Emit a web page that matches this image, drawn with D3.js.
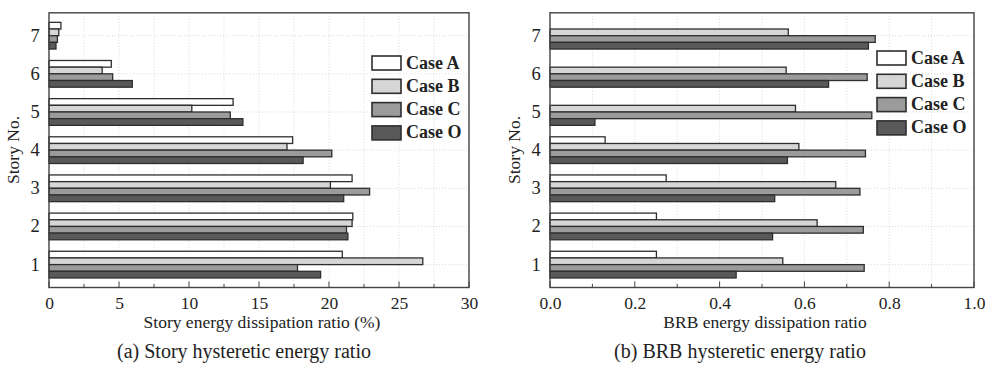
<!DOCTYPE html>
<html>
<head>
<meta charset="utf-8">
<script src="https://cdn.jsdelivr.net/npm/d3@7/dist/d3.min.js"></script>
<style>
  body { margin: 0; background: #fff; }
  svg text { font-family: "Times New Roman", Times, "Liberation Serif", Tinos, serif; fill: #222; }
</style>
</head>
<body>
<script>
var stories = [1, 2, 3, 4, 5, 6, 7];
var cases = ["Case A", "Case B", "Case C", "Case O"];
var caseColors = ["#ffffff", "#d6d6d6", "#9b9b9b", "#595959"];

// story energy dissipation ratio (%), stories 1..7
var storyA = [20.95, 21.7, 21.65, 17.4, 13.15, 4.45, 0.85];
var storyB = [26.7, 21.65, 20.1, 17.0, 10.2, 3.8, 0.7];
var storyC = [17.75, 21.25, 22.9, 20.2, 12.95, 4.55, 0.6];
var storyO = [19.4, 21.35, 21.05, 18.15, 13.85, 5.95, 0.5];

// BRB energy dissipation ratio, stories 1..7 (0 = no bar)
var brbA = [0.251, 0.251, 0.274, 0.13, 0, 0, 0];
var brbB = [0.549, 0.63, 0.674, 0.587, 0.579, 0.557, 0.562];
var brbC = [0.741, 0.739, 0.731, 0.744, 0.759, 0.748, 0.767];
var brbO = [0.439, 0.525, 0.53, 0.56, 0.106, 0.657, 0.751];

var xTicksA = [0, 5, 10, 15, 20, 25, 30];
var xTicksB = [0, 0.2, 0.4, 0.6, 0.8, 1.0];

var svg = d3.select("body").append("svg")
  .attr("width", 985).attr("height", 368);

function drawPanel(opt) {
  var x = d3.scaleLinear().domain(opt.xDomain).range([opt.left, opt.right]);
  var y = d3.scaleLinear().domain([0.4, 7.6]).range([287.5, 12.8]);
  var g = svg.append("g");

  // grid
  g.selectAll(".vgrid").data(opt.minor).enter().append("line")
    .attr("x1", function(d){ return x(d); }).attr("x2", function(d){ return x(d); })
    .attr("y1", y(7.6)).attr("y2", y(0.4))
    .attr("stroke", "#d0d0d0").attr("stroke-width", 0.8).attr("stroke-dasharray", "1,2");
  g.selectAll(".hgrid").data(stories).enter().append("line")
    .attr("x1", x.range()[0]).attr("x2", x.range()[1])
    .attr("y1", function(d){ return y(d); }).attr("y2", function(d){ return y(d); })
    .attr("stroke", "#d0d0d0").attr("stroke-width", 0.8).attr("stroke-dasharray", "1,2");

  // bars
  var bw = 0.175;
  opt.series.forEach(function(vals, i) {
    var rows = stories.map(function(s, j){ return {s: s, v: vals[j]}; })
      .filter(function(d){ return d.v > 0; });
    g.selectAll(".bar" + i).data(rows).enter().append("rect")
      .attr("x", x(0))
      .attr("y", function(d){ return y(d.s + 0.35 - i * bw); })
      .attr("width", function(d){ return x(d.v) - x(0); })
      .attr("height", y(0) - y(bw))
      .attr("fill", caseColors[i])
      .attr("stroke", "#2e2e2e").attr("stroke-width", 1.3);
  });

  // x axis with inward ticks
  var xAxis = d3.axisBottom(x).tickValues(opt.ticks).tickFormat(opt.fmt).tickSize(0).tickPadding(9);
  var ax = g.append("g").attr("transform", "translate(0," + y(0.4) + ")").call(xAxis);
  ax.select(".domain").remove();
  ax.attr("font-family", null).attr("font-size", null);
  ax.selectAll("text").style("font-size", "17.5px").attr("fill", "#222");
  g.selectAll(".mtick").data(opt.minor).enter().append("line")
    .attr("x1", function(d){ return x(d); }).attr("x2", function(d){ return x(d); })
    .attr("y1", y(0.4))
    .attr("y2", function(d, i){ return y(0.4) - (i % 2 === 0 ? 6 : 3.5); })
    .attr("stroke", "#444").attr("stroke-width", 1);

  // y labels
  g.selectAll(".ylab").data(stories).enter().append("text")
    .attr("x", x.range()[0] - 14).attr("y", function(d){ return y(d) + 6; })
    .attr("text-anchor", "middle").style("font-size", "18.5px")
    .text(function(d){ return d; });

  // frame
  g.append("rect").attr("x", x.range()[0]).attr("y", y(7.6))
    .attr("width", x.range()[1] - x.range()[0]).attr("height", y(0.4) - y(7.6))
    .attr("fill", "none").attr("stroke", "#444").attr("stroke-width", 1.4);

  // legend
  cases.forEach(function(c, i) {
    g.append("rect").attr("x", opt.legX).attr("y", opt.legY + i * 23.3)
      .attr("width", 29).attr("height", 14)
      .attr("fill", caseColors[i]).attr("stroke", "#2e2e2e").attr("stroke-width", 1.6);
    g.append("text").attr("x", opt.legX + 34).attr("y", opt.legY + i * 23.3 + 12.5)
      .style("font-size", "18px").style("font-weight", "bold").text(c);
  });

  // titles
  g.append("text").attr("transform", "translate(" + (x.range()[0] - 30) + "," + 150 + ") rotate(-90)")
    .attr("text-anchor", "middle").style("font-size", "17.5px").text("Story No.");
  g.append("text").attr("x", (x.range()[0] + x.range()[1]) / 2 + 3).attr("y", 328)
    .attr("text-anchor", "middle").style("font-size", "17.5px").text(opt.xTitle);
  g.append("text").attr("x", opt.capX).attr("y", 358)
    .attr("text-anchor", "middle").style("font-size", "20px").text(opt.caption);
}

drawPanel({
  left: 49, right: 469, xDomain: [0, 30],
  ticks: xTicksA, minor: d3.range(0, 30.01, 2.5), fmt: d3.format("d"),
  series: [storyA, storyB, storyC, storyO],
  legX: 372, legY: 56,
  xTitle: "Story energy dissipation ratio (%)",
  caption: "(a) Story hysteretic energy ratio", capX: 244
});

drawPanel({
  left: 550, right: 974, xDomain: [0, 1],
  ticks: xTicksB, minor: d3.range(0, 1.001, 0.1), fmt: d3.format(".1f"),
  series: [brbA, brbB, brbC, brbO],
  legX: 877, legY: 51,
  xTitle: "BRB energy dissipation ratio",
  caption: "(b) BRB hysteretic energy ratio", capX: 740
});
</script>
</body>
</html>
